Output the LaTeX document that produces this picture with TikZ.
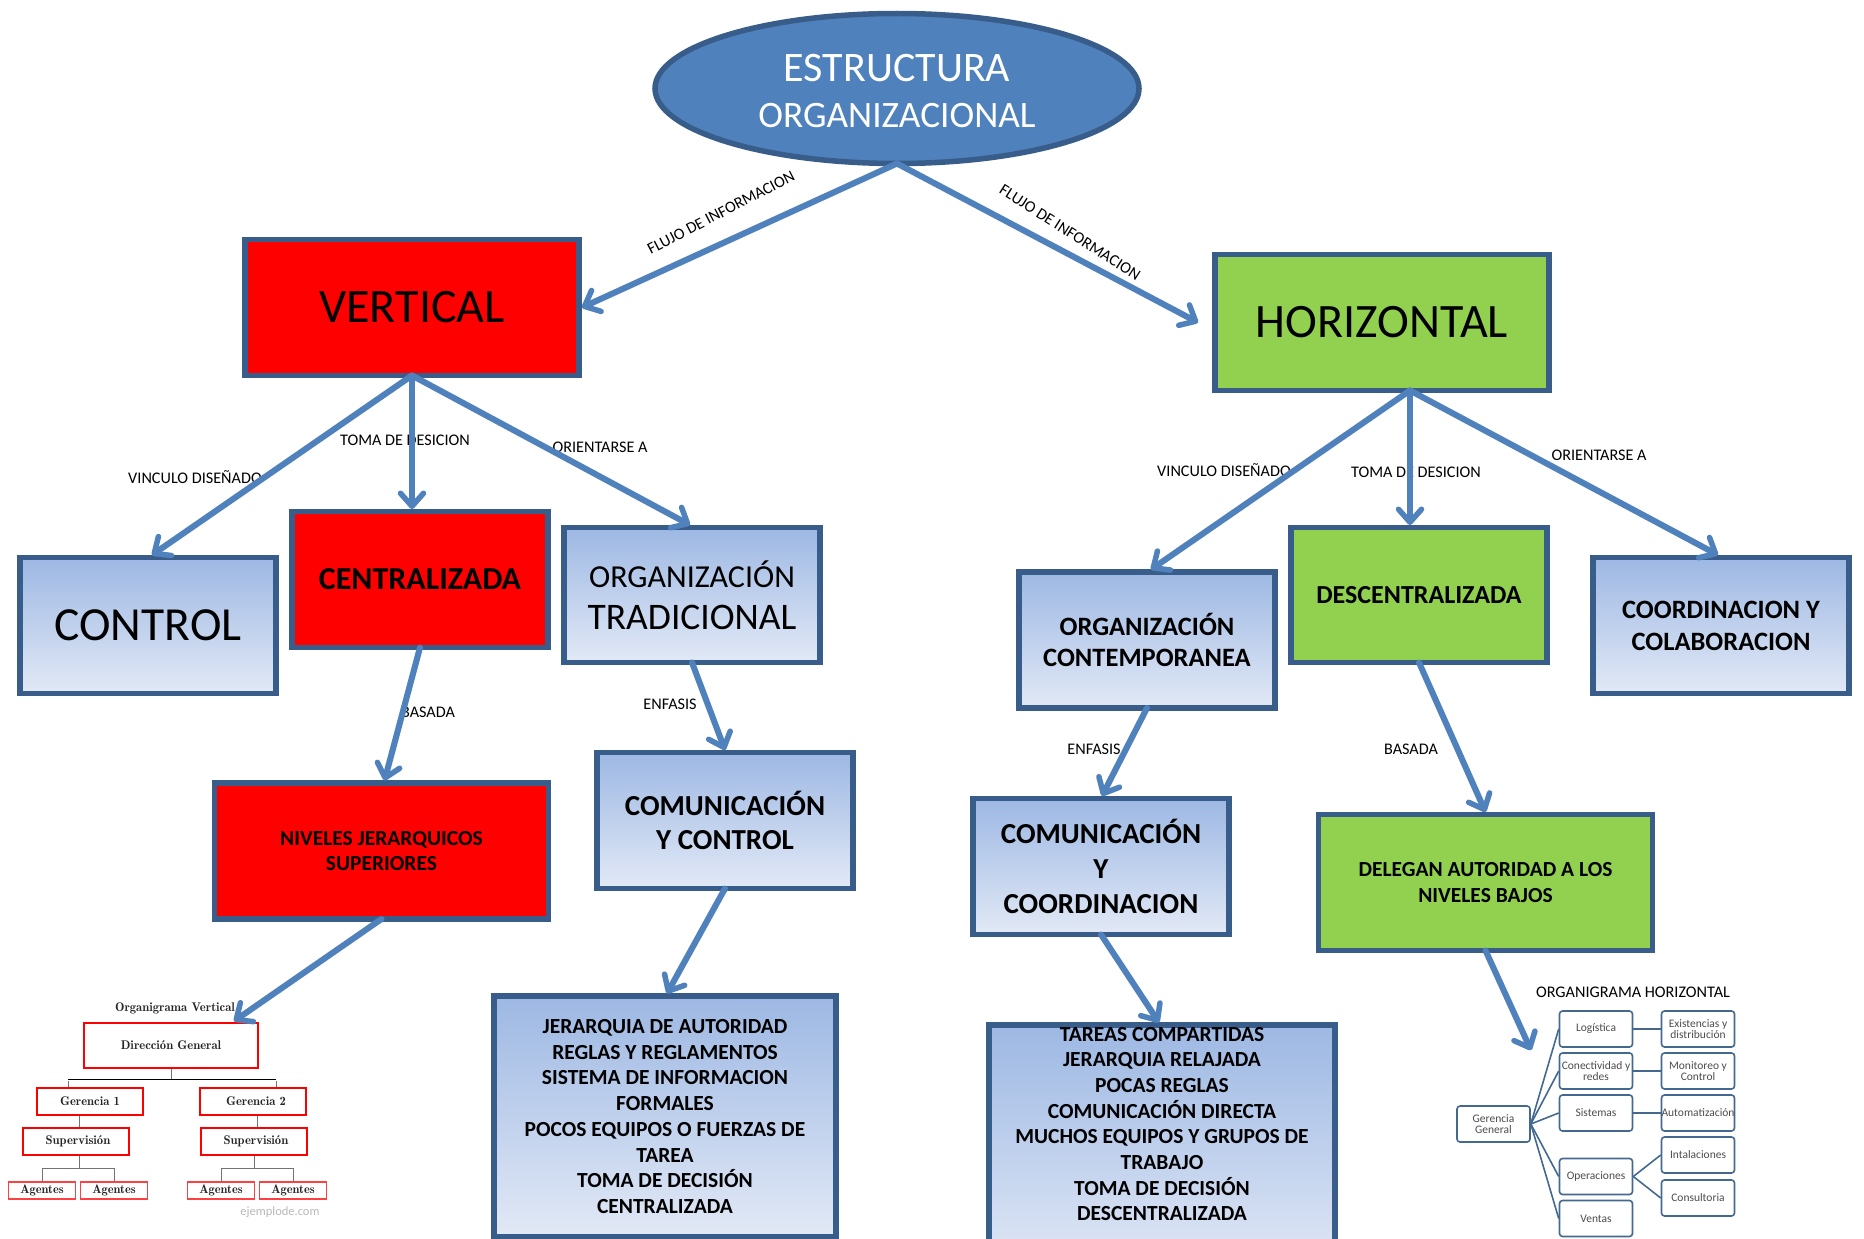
\documentclass[tikz,border=0pt]{standalone}
\usepackage{fontspec}
\setmainfont{Carlito}
\usetikzlibrary{shapes.geometric,arrows.meta,calc}
\definecolor{bdr}{HTML}{385D8A}
\definecolor{arr}{HTML}{4F81BD}
\definecolor{hbdr}{HTML}{44698F}
\definecolor{htxt}{HTML}{4D4D4D}
\definecolor{grn}{HTML}{92D050}
\definecolor{gtop}{HTML}{9DB8E3}
\definecolor{gbot}{HTML}{E2E9F6}
\newcommand{\fs}[1]{\fontsize{#1}{#1}\selectfont}
\newcommand{\lmfont}{\fontfamily{lmr}\bfseries}
\tikzset{
 conn/.style={draw=arr,line width=6pt,line cap=round,line join=round,-{Straight Barb[length=13pt,width=23pt,line width=5.5pt,round]},
   preaction={draw=black!40,opacity=.16,line width=6.5pt,shift={(2.5pt,-3pt)}}},
 bbox/.style={rectangle,draw=bdr,line width=5.5pt,align=center,inner sep=0pt,outer sep=0pt,text=black,execute at begin node={\setlength{\baselineskip}{1.2em}}},
 blue/.style={bbox,top color=gtop,bottom color=gbot},
 redb/.style={bbox,fill=red},
 grnb/.style={bbox,fill=grn},
 lab/.style={font=\fs{16.2},inner sep=0pt,text=black},
 vb/.style={rectangle,draw=red,line width=1.7pt,fill=white,font=\lmfont\fs{12.6},inner sep=0pt,text=black!85},
 ab/.style={rectangle,draw=red!75,line width=1.2pt,fill=white,font=\lmfont\fs{12.4},inner sep=0pt,text=black!85,minimum width=67pt,minimum height=17pt},
 vl/.style={draw=black!55,line width=1pt},
 hb/.style={rectangle,rounded corners=3pt,draw=hbdr,line width=1.6pt,fill=white,font=\fs{11.5},text=htxt,align=center,inner sep=0pt,minimum width=73pt,minimum height=36pt,execute at begin node={\setlength{\baselineskip}{11.5pt}}},
 hl/.style={draw=hbdr,line width=1.6pt},
}
\begin{document}
\begin{tikzpicture}[x=1pt,y=-1pt]
\useasboundingbox (0,0) rectangle (1864,1239);
\clip (0,0) rectangle (1864,1239);
% labels drawn below connectors
\node[lab] (l1) at (195,477) {VINCULO DISEÑADO};
\node[lab] (l2) at (405,440.5) {TOMA DE DESICION};
\node[lab] (l3) at (600,447.5) {ORIENTARSE A};
\node[lab] (l4) at (428,712) {BASADA};
\node[lab] (l5) at (670,704) {ENFASIS};
\node[lab] (l6) at (1224,470) {VINCULO DISEÑADO};
\node[lab] (l7) at (1416,472) {TOMA DE DESICION};
\node[lab] (l8) at (1599,455) {ORIENTARSE A};
\node[lab] (l9) at (1094,749) {ENFASIS};
\node[lab] (l10) at (1411,749) {BASADA};
\node[lab,rotate=27.5] (l11) at (721,212.5) {FLUJO DE INFORMACION};
\node[lab,rotate=-32.5] (l12) at (1070,232.5) {FLUJO DE INFORMACION};
% main
\node[ellipse,draw=bdr,line width=5.5pt,fill=arr,minimum width=484pt,minimum height=150pt,inner sep=0pt,outer sep=0pt] (root) at (897,88.5) {};
\node[text=white,font=\fs{42}] (roota) at (897,68) {ESTRUCTURA};
\node[text=white,font=\fs{37.3}] (rootb) at (897,116) {ORGANIZACIONAL};
\node[redb,minimum width=334pt,minimum height=136pt,font=\fs{48}] (vert) at (412,307.5) {\raisebox{-2pt}{VERTICAL}};
\node[grnb,minimum width=334pt,minimum height=136pt,font=\fs{48}] (horiz) at (1382,322.5) {\raisebox{-2pt}{HORIZONTAL}};
\node[blue,minimum width=256pt,minimum height=136pt,font=\fs{47.5}] (control) at (148,625.5) {\raisebox{-2pt}{CONTROL}};
\node[redb,minimum width=256pt,minimum height=136pt,font=\bfseries\fs{32}] (central) at (420,579.5) {\raisebox{-1.5pt}{CENTRALIZADA}};
\node[blue,minimum width=256pt,minimum height=135pt] (tradi) at (692,595) {{\fs{32}ORGANIZACIÓN}\\[16pt]{\fs{37.5}TRADICIONAL}};
\node[blue,minimum width=256pt,minimum height=136pt,font=\bfseries\fs{29}] (comctl) at (725,820.5) {COMUNICACIÓN\\Y CONTROL};
\node[redb,minimum width=334pt,minimum height=136pt,font=\bfseries\fs{21.5}] (nivel) at (381.5,851) {NIVELES JERARQUICOS\\SUPERIORES};
\node[blue,minimum width=342pt,minimum height=241pt,font=\bfseries\fs{21.5},execute at begin node={\setlength{\baselineskip}{25.7pt}}] (jerar) at (665,1116.5) {JERARQUIA DE AUTORIDAD\\REGLAS Y REGLAMENTOS\\SISTEMA DE INFORMACION\\FORMALES\\POCOS EQUIPOS O FUERZAS DE\\TAREA\\TOMA DE DECISIÓN\\CENTRALIZADA};
\node[blue,minimum width=256pt,minimum height=136pt,font=\bfseries\fs{26.5}] (orgcon) at (1147,640) {ORGANIZACIÓN\\CONTEMPORANEA};
\node[grnb,minimum width=256pt,minimum height=135pt,font=\bfseries\fs{26}] (desc) at (1419,595) {DESCENTRALIZADA};
\node[blue,minimum width=256pt,minimum height=136pt,font=\bfseries\fs{26.5}] (coord) at (1721,625.5) {COORDINACION Y\\COLABORACION};
\node[blue,minimum width=256pt,minimum height=136pt,font=\bfseries\fs{29}] (comcoo) at (1101,866.5) {COMUNICACIÓN\\Y\\COORDINACION};
\node[grnb,minimum width=334pt,minimum height=136pt,font=\bfseries\fs{21.5}] (deleg) at (1485.5,882.5) {DELEGAN AUTORIDAD A LOS\\NIVELES BAJOS};
\node[blue,minimum width=346pt,minimum height=250pt] (tarea) at (1162,1150) {};
\node[font=\bfseries\fs{21.5},align=center,execute at begin node={\setlength{\baselineskip}{25.7pt}}] (tareat) at (1162,1124) {TAREAS COMPARTIDAS\\JERARQUIA RELAJADA\\POCAS REGLAS\\COMUNICACIÓN DIRECTA\\MUCHOS EQUIPOS Y GRUPOS DE\\TRABAJO\\TOMA DE DECISIÓN\\DESCENTRALIZADA};
% vertical organigram
\node[font=\lmfont\fs{12.6},text=black!85,inner sep=0pt] (vt) at (175,1008) {Organigrama Vertical};
\node[vb,minimum width=174pt,minimum height=45pt] (vd) at (171,1045.5) {Dirección General};
\node[vb,minimum width=106pt,minimum height=27pt] (vg1) at (90,1101.5) {Gerencia 1};
\node[vb,minimum width=106pt,minimum height=27pt] (vg2) at (253,1101.5) {\hspace*{6pt}Gerencia 2};
\node[vb,minimum width=106pt,minimum height=27pt] (vs1) at (76,1141.5) {\hspace*{4pt}Supervisión};
\node[vb,minimum width=106pt,minimum height=27pt] (vs2) at (254,1141.5) {\hspace*{4pt}Supervisión};
\node[ab] (va1) at (42,1190.5) {Agentes};
\node[ab] (va2) at (114,1190.5) {Agentes};
\node[ab] (va3) at (221,1190.5) {Agentes};
\node[ab] (va4) at (293,1190.5) {Agentes};
\node[text=black!28,font=\fs{12.5},inner sep=0pt] (vw) at (280,1212) {ejemplode.com};
\draw[vl] (vd.south) -- ++(0,11) coordinate (jv);
\draw[black,line width=1.1pt] ([xshift=-22pt]vg1.north |- jv) -- ([xshift=23pt]vg2.north |- jv);
\draw[vl] ([xshift=-22pt,yshift=-1pt]vg1.north |- jv) -- ([xshift=-22pt]vg1.north);
\draw[vl] ([xshift=23pt,yshift=-1pt]vg2.north |- jv) -- ([xshift=23pt]vg2.north);
\draw[vl] ([xshift=-11pt]vg1.south) -- ([xshift=3pt]vs1.north);
\draw[vl] ([xshift=4pt]vg2.south) -- ([xshift=3pt]vs2.north);
\draw[vl] ([xshift=3pt]vs1.south) -- ++(0,13) coordinate (j1);
\draw[vl] (va1.north) |- (j1) -| (va2.north);
\draw[vl] (vs2.south) -- ++(0,13) coordinate (j2);
\draw[vl] (va3.north) |- (j2) -| (va4.north);
% horizontal organigram
\node[font=\fs{16.2},inner sep=0pt] (ht) at (1633,992) {ORGANIGRAMA HORIZONTAL};
\node[hb] (hg) at (1493.5,1124) {Gerencia\\General};
\node[hb] (h1) at (1596,1029) {Logística};
\node[hb] (h2) at (1596,1071) {Conectividad y\\redes};
\node[hb] (h3) at (1596,1113) {Sistemas};
\node[hb] (h4) at (1596,1176.5) {Operaciones};
\node[hb] (h5) at (1596,1218.5) {Ventas};
\node[hb] (h6) at (1698,1029) {Existencias y\\distribución};
\node[hb] (h7) at (1698,1071) {Monitoreo y\\Control};
\node[hb] (h8) at (1698,1113) {Automatización};
\node[hb] (h9) at (1698,1155) {Intalaciones};
\node[hb] (h10) at (1698,1198) {Consultoria};
\foreach \n in {h1,h2,h3,h4,h5} \draw[hl] (hg.east) -- (\n.west);
\draw[hl] (h1) -- (h6);
\draw[hl] (h2) -- (h7);
\draw[hl] (h3) -- (h8);
\draw[hl] (h4.east) -- (h9.west);
\draw[hl] (h4.east) -- (h10.west);
% connectors
\draw[conn] (root.south) -- ([xshift=3pt]vert.east);
\draw[conn] (root.south) -- ([xshift=-17pt]horiz.west);
\draw[conn] (vert.south) -- ([xshift=4pt,yshift=2.5pt]control.north);
\draw[conn] (vert.south) -- ([xshift=-8pt,yshift=2.5pt]central.north);
\draw[conn] (vert.south) -- ([xshift=-2pt,yshift=2.5pt]tradi.north);
\draw[conn] (central.south) -- ([xshift=3pt,yshift=2.5pt]nivel.north);
\draw[conn] (tradi.south) -- ([yshift=2.5pt]comctl.north);
\draw[conn] (comctl.south) -- ([xshift=2pt,yshift=2.5pt]jerar.north);
\draw[conn] (nivel.south) -- ([xshift=63pt,yshift=1pt]vd.north);
\draw[conn] ([xshift=28pt]horiz.south) -- ([xshift=4pt,yshift=2.5pt]orgcon.north);
\draw[conn] ([xshift=28pt]horiz.south) -- ([xshift=-9pt,yshift=2.5pt]desc.north);
\draw[conn] ([xshift=28pt]horiz.south) -- ([xshift=-3pt,yshift=2.5pt]coord.north);
\draw[conn] (orgcon.south) -- ([xshift=1pt,yshift=2.5pt]comcoo.north);
\draw[conn] (comcoo.south) -- ([xshift=-3pt,yshift=2.5pt]tarea.north);
\draw[conn] (desc.south) -- ([yshift=2.5pt]deleg.north);
\draw[conn] (deleg.south) -- ([xshift=-167pt,yshift=-40pt]h6.north);
\end{tikzpicture}
\end{document}
